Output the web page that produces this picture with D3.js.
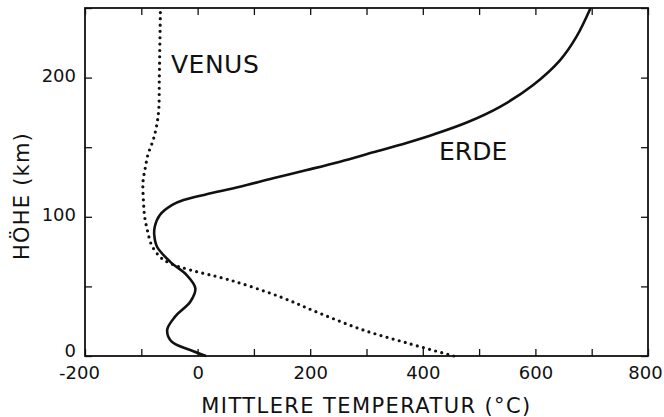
<!DOCTYPE html>
<html>
<head>
<meta charset="utf-8">
<script src="https://cdn.jsdelivr.net/npm/d3@7"></script>
<style>
  body { margin: 0; background: #fff; }
  text { font-family: "DejaVu Sans", sans-serif; fill: #111; }
</style>
</head>
<body>
<script>
// temperature profiles, height in km, temperature in deg C
var earthHeight = [0, 4.3, 10.3, 18.7, 28.3, 39, 48.6, 58, 67.8, 78.5, 87, 93, 101.3, 108.5, 112, 116.2, 121.6, 127.7, 133.6, 139.6, 146.3, 153, 159.1, 167.7, 179, 194.7, 212.6, 229.4, 250];
var earthTemp   = [15, -13, -46, -54, -40, -13, -4, -19, -49, -72, -77, -76, -67, -45, -25, 16, 75, 134, 194, 253, 312, 371, 419, 478, 537, 596, 644, 673, 698];

var venusHeight = [0, 9, 18.7, 30.7, 42.6, 54.6, 61.8, 66.6, 71.3, 80, 90, 100, 110, 125, 135, 145, 155, 165, 177, 200, 250];
var venusTemp   = [455, 375, 294, 217, 146, 57, -13, -49, -67, -82, -89, -94, -96, -97, -93, -88, -79, -73, -69, -68, -66];

var xTicks = [-200, -100, 0, 100, 200, 300, 400, 500, 600, 700, 800];
var xLabels = [-200, 0, 200, 400, 600, 800];
var yTicks = [0, 50, 100, 150, 200, 250];
var yLabels = [0, 100, 200];

var W = 664, H = 417;
var padL = 85, padR = 648, padT = 8, padB = 356;

var svg = d3.select('body')
    .append('svg')
    .attr('width', W)
    .attr('height', H)

var x = d3.scaleLinear().domain([-200, 800]).range([padL, padR]);
var y = d3.scaleLinear().domain([0, 250]).range([padB, padT]);

var fmtX = d => xLabels.indexOf(d) >= 0 ? d : '';
var fmtY = d => yLabels.indexOf(d) >= 0 ? d : '';

function styleAxis(g, withText) {
  g.select('.domain').remove();
  g.selectAll('.tick line').attr('stroke', '#111').attr('stroke-width', 1.3);
  g.selectAll('.tick text')
    .style('font-size', '18px')
    .attr('fill', '#111');
  if (!withText) g.selectAll('.tick text').remove();
}

svg.append('g')
    .attr('transform', 'translate(0,' + padB + ')')
    .call(d3.axisBottom(x).tickValues(xTicks).tickSize(-7).tickPadding(10).tickFormat(fmtX))
    .call(g => styleAxis(g, true))
    .call(g => g.selectAll('.tick text').filter(d => d < 0).attr('dx', -6))
    .call(g => g.selectAll('.tick text').filter(d => d == 800).attr('dx', -3));

svg.append('g')
    .attr('transform', 'translate(0,' + padT + ')')
    .call(d3.axisTop(x).tickValues(xTicks).tickSize(-7).tickFormat(''))
    .call(g => styleAxis(g, false));

svg.append('g')
    .attr('transform', 'translate(' + padL + ',0)')
    .call(d3.axisLeft(y).tickValues(yTicks).tickSize(-7).tickPadding(9).tickFormat(fmtY))
    .call(g => styleAxis(g, true))
    .call(g => g.selectAll('.tick text').attr('dy', '0.2em'))
    .call(g => g.selectAll('.tick text').filter(d => d == 0).attr('dy', '0.05em'));

svg.append('g')
    .attr('transform', 'translate(' + padR + ',0)')
    .call(d3.axisRight(y).tickValues(yTicks).tickSize(-7).tickFormat(''))
    .call(g => styleAxis(g, false));

// frame
svg.append('rect')
    .attr('x', padL)
    .attr('y', padT)
    .attr('width', padR - padL)
    .attr('height', padB - padT)
    .attr('fill', 'none')
    .attr('stroke', '#111')
    .attr('stroke-width', 1.8);

var line = d3.line()
    .x(d => x(d[1]))
    .y(d => y(d[0]))
    .curve(d3.curveCatmullRom.alpha(0.5));

var earth = earthHeight.map((h, i) => [h, earthTemp[i]]);
var venus = venusHeight.map((h, i) => [h, venusTemp[i]]);

svg.append('path')
    .datum(venus)
    .attr('d', line)
    .attr('fill', 'none')
    .attr('stroke', '#111')
    .attr('stroke-width', 3.2)
    .attr('stroke-linecap', 'round')
    .attr('stroke-dasharray', '0 6.3');

svg.append('path')
    .datum(earth)
    .attr('d', line)
    .attr('fill', 'none')
    .attr('stroke', '#111')
    .attr('stroke-width', 2.6)
    .attr('stroke-linejoin', 'round');

// curve labels
svg.append('text')
    .attr('x', 171)
    .attr('y', 73)
    .style('font-size', '25px')
    .style('letter-spacing', '0.5px')
    .text('VENUS');

svg.append('text')
    .attr('x', 439)
    .attr('y', 160)
    .style('font-size', '25px')
    .text('ERDE');

// axis titles
svg.append('text')
    .attr('x', (padL + padR) / 2)
    .attr('y', 413)
    .attr('text-anchor', 'middle')
    .style('font-size', '21px')
    .style('letter-spacing', '1.4px')
    .text('MITTLERE TEMPERATUR (°C)');

svg.append('text')
    .attr('transform', 'translate(29,196) rotate(-90)')
    .attr('text-anchor', 'middle')
    .style('font-size', '21px')
    .style('letter-spacing', '1.2px')
    .text('HÖHE (km)');
</script>
</body>
</html>
